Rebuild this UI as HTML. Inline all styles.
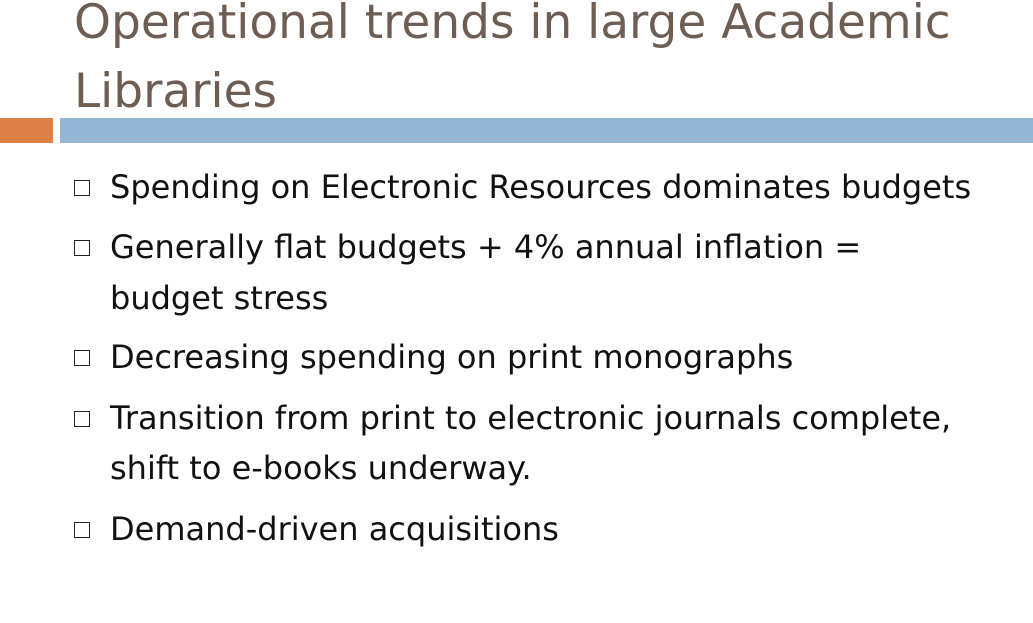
<!DOCTYPE html>
<html>
<head>
<meta charset="utf-8">
<style>
html,body{margin:0;padding:0;}
body{width:1033px;height:623px;background:#fff;position:relative;overflow:hidden;font-family:"DejaVu Sans","Liberation Sans",sans-serif;}
.title{position:absolute;left:74px;color:#6e5d53;font-size:47px;line-height:50px;white-space:nowrap;}
.bar{position:absolute;top:118px;height:25px;}
.line{position:absolute;left:110px;font-size:32px;line-height:40px;color:#111;white-space:nowrap;}
.box{position:absolute;left:74px;width:16px;height:16px;border:1.5px solid #222;box-sizing:border-box;}
</style>
</head>
<body>
<div class="title" style="top:-2px;">Operational trends in large Academic</div>
<div class="title" style="top:67px;">Libraries</div>
<div class="bar" style="left:0;width:53px;background:#dd8047;"></div>
<div class="bar" style="left:60px;width:973px;background:#94b6d2;"></div>

<div class="box" style="top:180px;"></div>
<div class="line" style="top:167px;">Spending on Electronic Resources dominates budgets</div>

<div class="box" style="top:240px;"></div>
<div class="line" style="top:227px;">Generally flat budgets + 4% annual inflation =</div>
<div class="line" style="top:278px;">budget stress</div>

<div class="box" style="top:350px;"></div>
<div class="line" style="top:337px;">Decreasing spending on print monographs</div>

<div class="box" style="top:411px;"></div>
<div class="line" style="top:398px;">Transition from print to electronic journals complete,</div>
<div class="line" style="top:448px;">shift to e-books underway.</div>

<div class="box" style="top:522px;"></div>
<div class="line" style="top:509px;">Demand-driven acquisitions</div>
</body>
</html>
